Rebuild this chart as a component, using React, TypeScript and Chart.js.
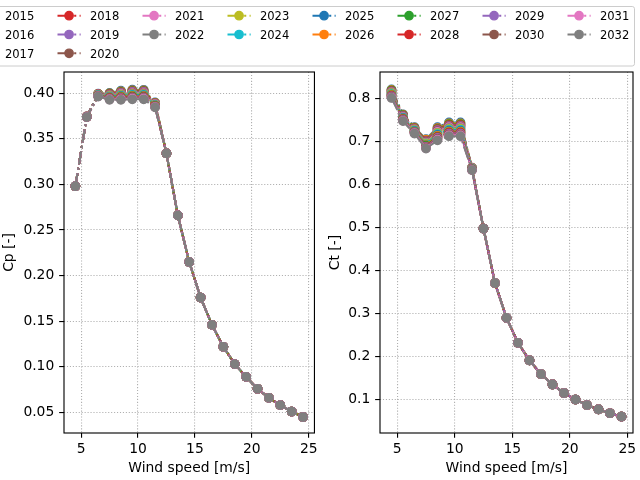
import React, { useEffect, useRef } from "react";
import { Chart, registerables } from "chart.js";

Chart.register(...registerables);

// ---------------- data ----------------
const YEARS = [
  "2015", "2016", "2017", "2018", "2019", "2020", "2021", "2022", "2023",
  "2024", "2025", "2026", "2027", "2028", "2029", "2030", "2031", "2032",
];

const WIND_SPEED = [
  4.5, 5.5, 6.5, 7.5, 8.5, 9.5, 10.5, 11.5, 12.5, 13.5, 14.5, 15.5, 16.5,
  17.5, 18.5, 19.5, 20.5, 21.5, 22.5, 23.5, 24.5,
];

const X_TICKS = [5, 10, 15, 20, 25];
const CP_TICKS = [0.05, 0.1, 0.15, 0.2, 0.25, 0.3, 0.35, 0.4];
const CT_TICKS = [0.1, 0.2, 0.3, 0.4, 0.5, 0.6, 0.7, 0.8];

// Cp, wind speeds 4.5 ... 11.5 (differs per year)
const cp2015 = [0.298, 0.3745, 0.3995, 0.4003, 0.4027, 0.4038, 0.4037, 0.3898];
const cp2016 = [0.298, 0.3745, 0.3993, 0.3999, 0.4021, 0.4032, 0.4031, 0.3895];
const cp2017 = [0.298, 0.3744, 0.3991, 0.3994, 0.4015, 0.4025, 0.4025, 0.3891];
const cp2018 = [0.298, 0.3744, 0.3989, 0.399, 0.401, 0.4019, 0.4019, 0.3888];
const cp2019 = [0.298, 0.3743, 0.3987, 0.3985, 0.4004, 0.4013, 0.4013, 0.3885];
const cp2020 = [0.298, 0.3743, 0.3985, 0.3981, 0.3998, 0.4007, 0.4006, 0.3882];
const cp2021 = [0.298, 0.3742, 0.3984, 0.3976, 0.3992, 0.4001, 0.4, 0.3879];
const cp2022 = [0.298, 0.3742, 0.3982, 0.3972, 0.3986, 0.3995, 0.3994, 0.3875];
const cp2023 = [0.298, 0.3741, 0.398, 0.3967, 0.398, 0.3988, 0.3988, 0.3872];
const cp2024 = [0.298, 0.3741, 0.3978, 0.3963, 0.3974, 0.3982, 0.3981, 0.3869];
const cp2025 = [0.298, 0.374, 0.3976, 0.3958, 0.3968, 0.3976, 0.3975, 0.3866];
const cp2026 = [0.298, 0.374, 0.3974, 0.3954, 0.3963, 0.397, 0.3969, 0.3863];
const cp2027 = [0.298, 0.374, 0.3972, 0.3949, 0.3957, 0.3964, 0.3963, 0.386];
const cp2028 = [0.298, 0.3739, 0.397, 0.3945, 0.3951, 0.3957, 0.3957, 0.3856];
const cp2029 = [0.298, 0.3739, 0.3969, 0.394, 0.3945, 0.3951, 0.3951, 0.3853];
const cp2030 = [0.298, 0.3738, 0.3967, 0.3936, 0.3939, 0.3945, 0.3945, 0.385];
const cp2031 = [0.298, 0.3738, 0.3965, 0.3931, 0.3933, 0.3939, 0.3939, 0.3847];
const cp2032 = [0.298, 0.3738, 0.3963, 0.3927, 0.3927, 0.3933, 0.3933, 0.3844];
// Cp, wind speeds 12.5 ... 24.5 (same for all years)
const cpTail = [0.334, 0.266, 0.215, 0.176, 0.146, 0.122, 0.103, 0.089, 0.076, 0.066, 0.058, 0.051, 0.045];

// Ct, wind speeds 4.5 ... 11.5
const ct2015 = [0.822, 0.764, 0.734, 0.706, 0.734, 0.745, 0.745, 0.64];
const ct2016 = [0.821, 0.763, 0.733, 0.705, 0.732, 0.743, 0.743, 0.64];
const ct2017 = [0.82, 0.762, 0.732, 0.703, 0.73, 0.741, 0.741, 0.639];
const ct2018 = [0.818, 0.761, 0.731, 0.702, 0.729, 0.739, 0.739, 0.639];
const ct2019 = [0.817, 0.76, 0.73, 0.701, 0.727, 0.737, 0.737, 0.639];
const ct2020 = [0.816, 0.759, 0.73, 0.7, 0.725, 0.736, 0.736, 0.638];
const ct2021 = [0.815, 0.758, 0.729, 0.698, 0.723, 0.734, 0.734, 0.638];
const ct2022 = [0.814, 0.757, 0.728, 0.697, 0.721, 0.732, 0.732, 0.638];
const ct2023 = [0.813, 0.756, 0.727, 0.696, 0.72, 0.73, 0.73, 0.637];
const ct2024 = [0.811, 0.756, 0.726, 0.694, 0.718, 0.728, 0.728, 0.637];
const ct2025 = [0.81, 0.755, 0.725, 0.693, 0.716, 0.726, 0.726, 0.636];
const ct2026 = [0.809, 0.754, 0.724, 0.692, 0.714, 0.724, 0.724, 0.636];
const ct2027 = [0.808, 0.753, 0.723, 0.691, 0.712, 0.722, 0.722, 0.636];
const ct2028 = [0.807, 0.752, 0.722, 0.689, 0.711, 0.721, 0.721, 0.635];
const ct2029 = [0.806, 0.751, 0.722, 0.688, 0.709, 0.719, 0.719, 0.635];
const ct2030 = [0.804, 0.75, 0.721, 0.687, 0.707, 0.717, 0.717, 0.635];
const ct2031 = [0.803, 0.749, 0.72, 0.685, 0.705, 0.715, 0.715, 0.634];
const ct2032 = [0.802, 0.748, 0.719, 0.684, 0.7035, 0.713, 0.713, 0.634];
// Ct, wind speeds 12.5 ... 24.5
const ctTail = [0.498, 0.371, 0.29, 0.232, 0.191, 0.159, 0.135, 0.115, 0.1, 0.087, 0.077, 0.068, 0.06];

const CP_HEADS = [
  cp2015, cp2016, cp2017, cp2018, cp2019, cp2020, cp2021, cp2022, cp2023,
  cp2024, cp2025, cp2026, cp2027, cp2028, cp2029, cp2030, cp2031, cp2032,
];
const CT_HEADS = [
  ct2015, ct2016, ct2017, ct2018, ct2019, ct2020, ct2021, ct2022, ct2023,
  ct2024, ct2025, ct2026, ct2027, ct2028, ct2029, ct2030, ct2031, ct2032,
];

const CP_SERIES = CP_HEADS.map((h) => [...h, ...cpTail]);
const CT_SERIES = CT_HEADS.map((h) => [...h, ...ctTail]);

// ---------------- style ----------------
const COLORS = [
  "#1f77b4", "#ff7f0e", "#2ca02c", "#d62728", "#9467bd",
  "#8c564b", "#e377c2", "#7f7f7f", "#bcbd22", "#17becf",
];
const PT = 100 / 72;
const FONT = "'DejaVu Sans', 'Liberation Sans', sans-serif";
const LW = 1.5 * PT;
const DASH = [6.4 * LW, 1.6 * LW, 1.0 * LW, 1.6 * LW];
const MARKER_R = 3 * PT;
const MARKER_EDGE = 1 * PT;

Chart.defaults.font.family = FONT;
Chart.defaults.font.size = 10 * PT;
Chart.defaults.color = "#000";

const spinePlugin = {
  id: "spines",
  afterDatasetsDraw(chart: any) {
    const { ctx, chartArea: a } = chart;
    ctx.save();
    ctx.strokeStyle = "#000";
    ctx.lineWidth = 0.8 * PT;
    ctx.strokeRect(a.left, a.top, a.right - a.left, a.bottom - a.top);
    ctx.restore();
  },
};

type PanelProps = {
  left: number;
  yWidth: number;
  padRight: number;
  titlePad: number;
  yTitle: string;
  yTicks: number[];
  yMin: number;
  yMax: number;
  digits: number;
  series: number[][];
};

function Panel(p: PanelProps) {
  const ref = useRef<HTMLCanvasElement>(null);
  useEffect(() => {
    const gridCommon = {
      color: "#b0b0b0",
      lineWidth: 0.8 * PT,
      tickColor: "#000",
      tickWidth: 0.8 * PT,
      tickLength: 3.5 * PT,
      drawTicks: true,
    };
    const borderCommon = {
      display: false,
      dash: [1 * 0.8 * PT, 1.65 * 0.8 * PT],
    };
    const chart = new Chart(ref.current as HTMLCanvasElement, {
      type: "line",
      data: {
        datasets: YEARS.map((year, i) => ({
          label: year,
          data: WIND_SPEED.map((w, j) => ({ x: w, y: p.series[i][j] })),
          borderColor: COLORS[i % 10],
          backgroundColor: COLORS[i % 10],
          pointBackgroundColor: COLORS[i % 10],
          pointBorderColor: COLORS[i % 10],
          borderWidth: LW,
          borderDash: DASH,
          borderJoinStyle: "round" as const,
          borderCapStyle: "butt" as const,
          pointRadius: MARKER_R,
          pointBorderWidth: MARKER_EDGE,
          pointHoverRadius: MARKER_R,
          fill: false,
          tension: 0,
          order: YEARS.length - i,
        })),
      },
      options: {
        animation: false,
        responsive: false,
        events: [],
        layout: { padding: { top: 72, left: 0, right: p.padRight, bottom: 0 } },
        plugins: {
          legend: { display: false },
          tooltip: { enabled: false },
        },
        scales: {
          x: {
            type: "linear",
            min: 3.5,
            max: 25.5,
            grid: gridCommon,
            border: borderCommon,
            afterBuildTicks: (scale: any) => {
              scale.ticks = X_TICKS.map((v) => ({ value: v }));
            },
            afterFit: (scale: any) => {
              scale.height = 47;
              scale.paddingLeft = 0;
              scale.paddingRight = 0;
            },
            ticks: {
              autoSkip: false,
              maxRotation: 0,
              padding: 2.8,
              color: "#000",
              callback: (v: any) => String(v),
            },
            title: {
              display: true,
              text: "Wind speed [m/s]",
              color: "#000",
              padding: { top: 0, bottom: 3.2 },
            },
          },
          y: {
            type: "linear",
            min: p.yMin,
            max: p.yMax,
            grid: gridCommon,
            border: borderCommon,
            afterBuildTicks: (scale: any) => {
              scale.ticks = p.yTicks.map((v) => ({ value: v }));
            },
            afterFit: (scale: any) => {
              scale.width = p.yWidth;
              scale.paddingTop = 0;
              scale.paddingBottom = 0;
            },
            ticks: {
              autoSkip: false,
              padding: 3.5 * PT,
              color: "#000",
              callback: (v: any) => Number(v).toFixed(p.digits),
            },
            title: {
              display: true,
              text: p.yTitle,
              color: "#000",
              padding: { top: p.titlePad, bottom: 0 },
            },
          },
        },
      } as any,
      plugins: [spinePlugin],
    });
    return () => chart.destroy();
  }, []);
  return (
    <canvas
      ref={ref}
      width={320}
      height={480}
      style={{ position: "absolute", left: p.left, top: 0, width: 320, height: 480 }}
    />
  );
}

function Legend() {
  const fs = 8.33 * PT; // 'small'
  const ncol = 8;
  const nrows = Math.ceil(YEARS.length / ncol);
  const extra = YEARS.length % ncol;
  const items: { label: string; color: string; c: number; r: number }[] = [];
  let idx = 0;
  for (let c = 0; c < ncol; c++) {
    const n = extra === 0 || c < extra ? nrows : nrows - 1;
    for (let r = 0; r < n && idx < YEARS.length; r++) {
      items.push({ label: YEARS[idx], color: COLORS[idx % 10], c, r });
      idx++;
    }
  }
  const pitchX = 85;
  const pitchY = 18.8;
  const handleLen = 2 * fs;
  return (
    <svg
      width={640}
      height={80}
      style={{ position: "absolute", left: 0, top: 0, zIndex: 2 }}
    >
      <rect
        x={-32.1}
        y={6.5}
        width={666.6}
        height={59.5}
        rx={2.3}
        ry={2.3}
        fill="rgba(255,255,255,0.8)"
        stroke="#cccccc"
        strokeWidth={1}
      />
      {items.map((it) => {
        const hx = -27.5 + pitchX * it.c;
        const cy = 15.7 + pitchY * it.r;
        return (
          <g key={it.label}>
            <line
              x1={hx}
              x2={hx + handleLen}
              y1={cy}
              y2={cy}
              stroke={it.color}
              strokeWidth={LW}
              strokeDasharray={DASH.join(" ")}
            />
            <circle
              cx={hx + handleLen / 2}
              cy={cy}
              r={MARKER_R}
              fill={it.color}
              stroke={it.color}
              strokeWidth={MARKER_EDGE}
            />
            <text
              x={hx + handleLen + 0.8 * fs}
              y={cy + 0.3645 * fs}
              fontFamily={FONT}
              fontSize={fs}
              fill="#000"
            >
              {it.label}
            </text>
          </g>
        );
      })}
    </svg>
  );
}

export default function App() {
  return (
    <div
      style={{
        position: "fixed",
        left: 0,
        top: 0,
        width: 640,
        height: 480,
        background: "#fff",
        overflow: "hidden",
      }}
    >
      <Panel
        left={0}
        yWidth={64}
        padRight={3}
        titlePad={1.5}
        yTitle="Cp [-]"
        yTicks={CP_TICKS}
        yMin={0.0275}
        yMax={0.4232}
        digits={2}
        series={CP_SERIES}
      />
      <Panel
        left={320}
        yWidth={60}
        padRight={7}
        titlePad={7}
        yTitle="Ct [-]"
        yTicks={CT_TICKS}
        yMin={0.022}
        yMax={0.8625}
        digits={1}
        series={CT_SERIES}
      />
      <Legend />
    </div>
  );
}
